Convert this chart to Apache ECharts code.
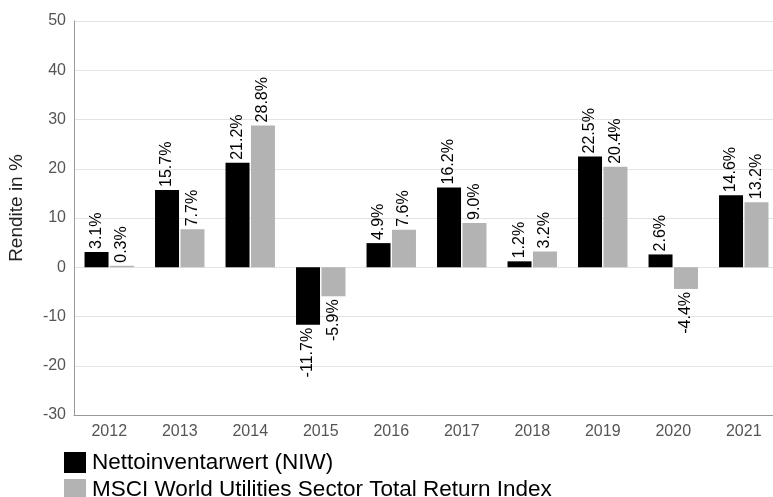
<!DOCTYPE html>
<html>
<head>
<meta charset="utf-8">
<script src="https://cdn.jsdelivr.net/npm/echarts@6/dist/echarts.min.js"></script>
<style>html,body{margin:0;padding:0;background:#fff}#c{width:773px;height:497px}</style>
</head>
<body>
<div id="c"></div>
<script>
const categories = ['2012','2013','2014','2015','2016','2017','2018','2019','2020','2021'];
const niw = [3.1, 15.7, 21.2, -11.7, 4.9, 16.2, 1.2, 22.5, 2.6, 14.6];
const msci = [0.3, 7.7, 28.8, -5.9, 7.6, 9.0, 3.2, 20.4, -4.4, 13.2];
const seriesNames = ['Nettoinventarwert (NIW)', 'MSCI World Utilities Sector Total Return Index'];
const yTicks = {min: -30, max: 50, interval: 10};

function toData(arr) {
  return arr.map(v => ({
    value: v,
    label: v < 0 ? {position: 'bottom', align: 'right'} : {position: 'top', align: 'left'}
  }));
}
const labelBase = {
  show: true, rotate: 90, distance: 3, verticalAlign: 'middle',
  color: '#000', fontSize: 16, fontFamily: 'Liberation Sans, Arial, sans-serif',
  formatter: p => p.value.toFixed(1) + '%'
};
const chart = echarts.init(document.getElementById('c'), null, {renderer: 'canvas'});
chart.setOption({
  animation: false,
  textStyle: {fontFamily: 'Liberation Sans, Arial, sans-serif'},
  grid: {left: 74, width: 705, top: 21, bottom: 82, containLabel: false, outerBoundsMode: 'none'},
  legend: {
    orient: 'vertical', left: 64, top: 451, padding: 0, height: 60,
    itemWidth: 22, itemHeight: 21, itemGap: 4,
    icon: 'rect',
    textStyle: {fontSize: 22.5, color: '#000', padding: [0,0,0,1]},
    data: seriesNames
  },
  xAxis: {
    type: 'category', data: categories,
    axisLine: {onZero: false, lineStyle: {color: '#999'}},
    axisTick: {show: false},
    axisLabel: {fontSize: 16, color: '#555', margin: 9}
  },
  yAxis: {
    type: 'value', min: yTicks.min, max: yTicks.max, interval: yTicks.interval,
    name: 'Rendite in %', nameLocation: 'middle', nameGap: 48,
    nameTextStyle: {fontSize: 19, color: '#222', padding: [0, 0, 0, 20]},
    axisLine: {show: true, lineStyle: {color: '#999'}},
    axisTick: {show: false},
    axisLabel: {fontSize: 16, color: '#555', margin: 8},
    splitLine: {lineStyle: {color: '#e3e3e3'}}
  },
  series: [
    {name: seriesNames[0], type: 'bar', data: toData(niw), barWidth: 24, barGap: '6%',
     itemStyle: {color: '#000'}, label: labelBase},
    {name: seriesNames[1], type: 'bar', data: toData(msci), barWidth: 24, barGap: '6%',
     itemStyle: {color: '#b3b3b3'}, label: labelBase}
  ]
});
</script>
</body>
</html>
